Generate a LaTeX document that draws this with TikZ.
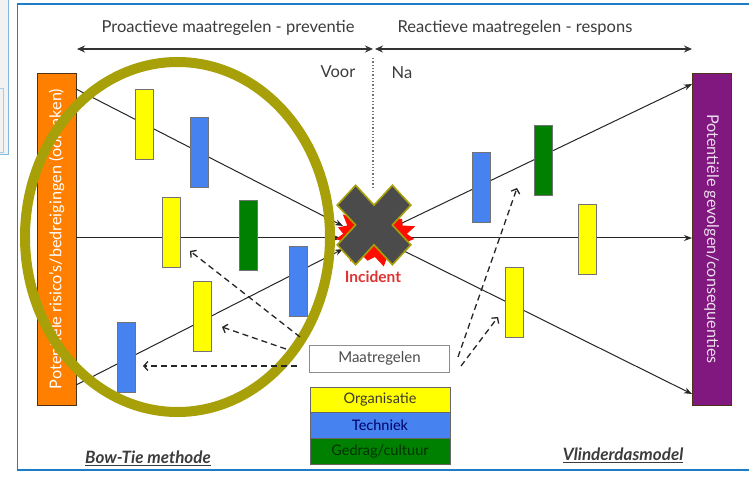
\documentclass[tikz,border=0pt]{standalone}
\usepackage{fontspec}
\setmainfont{Lato}
\usetikzlibrary{arrows.meta,shapes.symbols,calc}
\definecolor{frameblue}{RGB}{30,125,200}
\definecolor{bYellow}{RGB}{255,255,0}
\definecolor{bBlue}{RGB}{70,130,240}
\definecolor{bGreen}{RGB}{0,128,0}
\definecolor{bOrange}{RGB}{255,127,0}
\definecolor{bPurple}{RGB}{128,24,128}
\definecolor{ringolive}{RGB}{168,160,8}
\definecolor{xgrey}{RGB}{75,75,75}
\definecolor{incred}{RGB}{225,50,50}
\definecolor{txtgrey}{RGB}{60,60,60}
\tikzset{
  bar/.style={draw=black!55, line width=0.6, minimum width=18, minimum height=70, inner sep=0},
  sidebox/.style={draw=black!60!brown, line width=0.6, minimum width=39, minimum height=332, inner sep=0},
  conn/.style={-{Stealth[length=8,width=6]}, line width=1, black!85},
  topspan/.style={{Stealth[length=8,width=7]}-{Stealth[length=8,width=7]}, line width=1.3, black!80},
  dasharrow/.style={-{Straight Barb[length=4,width=9]}, line width=1.3, black!85, dash pattern=on 6pt off 4pt},
  legend/.style={draw=black!60, line width=0.6, minimum width=140, minimum height=25.7, inner sep=0, font=\fontsize{14.5}{16}\selectfont},
  lbl/.style={font=\fontsize{16.5}{18}\selectfont, text=txtgrey, inner sep=0},
  sidetxt/.style={font=\fontsize{16.2}{18}\selectfont},
  title/.style={text=txtgrey, font=\bfseries\itshape\fontsize{17}{19}\selectfont},
}
\begin{document}
\begin{tikzpicture}[x=1pt,y=-1pt]
\useasboundingbox (0,0) rectangle (749,478);
\clip (0,0) rectangle (749,478);
% screenshot remnants at left
\fill[black!5] (0,0) rectangle (8,155);
\draw[frameblue!55, line width=1] (8,0) -- (8,155) -- (0,155);
\draw[frameblue!40, line width=0.8] (0,88) -- (3,88) -- (3,152) -- (0,152);
% main frame
\draw[frameblue, line width=1.5, fill=white] (17.5,4) rectangle (760,470);

% top spans
\coordinate (pl) at (77,49); \coordinate (pm1) at (373,49);
\coordinate (pm2) at (375,49); \coordinate (pr) at (692,49);
\draw[topspan] (pl) -- (pm1);
\draw[topspan] (pm2) -- (pr);
\node[lbl] (proact) at (228,28) {Proactieve maatregelen - preventie};
\node[lbl] (react) at (515,28) {Reactieve maatregelen - respons};
\node[lbl] (voor) at (338,72) {Voor};
\node[lbl] (na) at (402,73) {Na};
\coordinate (dtop) at (373,58); \coordinate (dbot) at (373,190);
\draw[black!55, line width=1.3, dotted] (dtop) -- (dbot);

% side boxes
\node[sidebox, fill=bOrange] (cause) at (56.5,239) {};
\node[sidetxt, rotate=90, text=white] at (cause.center) {Potentiële risico’s/bedreigingen (oorzaken)};
\node[sidebox, fill=bPurple] (conseq) at (711.5,239) {};
\node[sidetxt, rotate=-90, text=white!85!bPurple] at (conseq.center) {Potentiële gevolgen/consequenties};

% line end points
\coordinate (lt) at (76,89);  \coordinate (lm) at (76,238);  \coordinate (lb) at (76,385);
\coordinate (xt) at (343,226); \coordinate (xm) at (341,238); \coordinate (xb) at (343,249);
\coordinate (rt) at (398,225); \coordinate (rm) at (402,238); \coordinate (rb) at (398,248);
\coordinate (ct) at (692,84);  \coordinate (cm) at (692,238); \coordinate (cb) at (692,394);
\draw[conn] (lt) -- (xt);
\draw[conn] (lm) -- (xm);
\draw[conn] (lb) -- (xb);
\draw[conn] (rt) -- (ct);
\draw[conn] (rm) -- (cm);
\draw[conn] (rb) -- (cb);

% barriers
\node[bar, fill=bYellow] (y1) at (144.5,124) {};
\node[bar, fill=bBlue]   (b1) at (199,152) {};
\node[bar, fill=bYellow] (y2) at (171,232) {};
\node[bar, fill=bGreen]  (g1) at (248,235) {};
\node[bar, fill=bBlue]   (b2) at (298,281) {};
\node[bar, fill=bYellow] (y3) at (202,316) {};
\node[bar, fill=bBlue]   (b3) at (126,357.5) {};
\node[bar, fill=bBlue]   (b4) at (481,187.5) {};
\node[bar, fill=bGreen]  (g2) at (543.5,160) {};
\node[bar, fill=bYellow] (y4) at (587,239.5) {};
\node[bar, fill=bYellow] (y5) at (514.5,302) {};

% ring
\draw[ringolive, line width=10] (177.5,237) ellipse [x radius=152.5, y radius=175];

% incident
\node[starburst, fill=red!90!orange, draw=none, minimum width=88pt, minimum height=66pt,
      starburst points=15, starburst point height=12pt] (burst) at (375,236) {};
\begin{scope}[shift={(374,225)}, yscale=1.08, rotate=45]
\draw[ringolive, line width=1.6, fill=xgrey, line join=miter]
  (13,13) -- (13,39) -- (-13,39) -- (-13,13) -- (-39,13) -- (-39,-13) -- (-13,-13)
  -- (-13,-39) -- (13,-39) -- (13,-13) -- (39,-13) -- (39,13) -- cycle;
\end{scope}
\node[text=incred, font=\bfseries\fontsize{15.5}{17}\selectfont] (inc) at (373,277) {Incident};

% maatregelen + legend
\node[legend, draw=black!45, fill=white, text=black!70, minimum height=27, font=\fontsize{15}{17}\selectfont] (maat) at (379.5,358.5) {Maatregelen};
\node[legend, fill=bYellow, text=black!75!olive] (org) at (380,399.7) {Organisatie};
\node[legend, fill=bBlue, text=blue!40!black] (tech) at (380,425.3) {Techniek};
\node[legend, fill=bGreen, text=black!80!green] (ged) at (380,451) {Gedrag/cultuur};

% dashed arrows
\coordinate (d1s) at (297,366); \coordinate (d1e) at (143,366);
\coordinate (d2s) at (286,349); \coordinate (d2e) at (222,327);
\coordinate (d3s) at (300,337); \coordinate (d3e) at (190,251);
\coordinate (d4s) at (461,366); \coordinate (d4e) at (498,317);
\coordinate (d5s) at (458,357); \coordinate (d5e) at (517,188);
\draw[dasharrow] (d1s) -- (d1e);
\draw[dasharrow] (d2s) -- (d2e);
\draw[dasharrow] (d3s) -- (d3e);
\draw[dasharrow] (d4s) -- (d4e);
\draw[dasharrow] (d5s) -- (d5e);

% titles
\node[title] (bowtie) at (148,458) {\underline{Bow-Tie methode}};
\node[title] (vlinder) at (623,455) {\underline{Vlinderdasmodel}};
\end{tikzpicture}
\end{document}
